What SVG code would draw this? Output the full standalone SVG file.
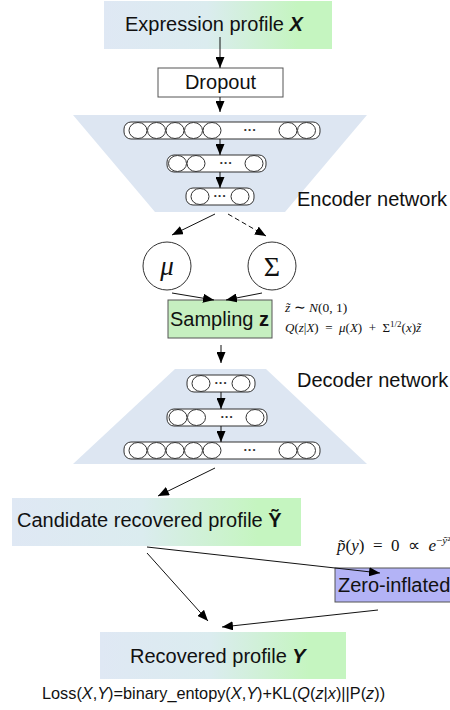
<svg xmlns="http://www.w3.org/2000/svg" width="450" height="710" viewBox="0 0 450 710">
<defs>
<linearGradient id="bg" x1="0" y1="0" x2="1" y2="0">
<stop offset="0" stop-color="#dfe8f4"/>
<stop offset="0.45" stop-color="#dbecef"/>
<stop offset="0.85" stop-color="#c5f5c0"/>
<stop offset="1" stop-color="#c5f5c0"/>
</linearGradient>
<marker id="ah" markerUnits="userSpaceOnUse" markerWidth="11" markerHeight="9" refX="11" refY="4.5" orient="auto">
<path d="M0,0 L11,4.5 L0,9 z" fill="#000"/>
</marker>
</defs>
<style>
.lbl{font-family:"Liberation Sans",Arial,sans-serif;font-size:20px;fill:#111}
.loss{font-family:"Liberation Sans",Arial,sans-serif;font-size:16.3px;fill:#111}
.math{font-family:"Liberation Serif","Times New Roman",serif;fill:#111}
.box{stroke:#555;stroke-width:1}
.trap{fill:#dde6f2}
.layer{fill:#fff;stroke:#333;stroke-width:1}
.nd{fill:#fff;stroke:#333;stroke-width:1}
.dots{font-family:"Liberation Sans",Arial,sans-serif;font-size:13px;font-weight:bold;fill:#333}
.edge{stroke:#111;stroke-width:1;fill:none;marker-end:url(#ah)}
</style>
<rect width="450" height="710" fill="#fff"/>

<!-- Encoder network -->
<g id="encoder">
<polygon class="trap" points="73,115 367,115 285,212 155,212"/>
<rect class="layer" x="124" y="122" width="196" height="17" rx="7"/>
<ellipse class="nd" cx="138" cy="130.5" rx="9" ry="8"/>
<ellipse class="nd" cx="156.5" cy="130.5" rx="9" ry="8"/>
<ellipse class="nd" cx="175" cy="130.5" rx="9" ry="8"/>
<ellipse class="nd" cx="193.5" cy="130.5" rx="9" ry="8"/>
<ellipse class="nd" cx="212" cy="130.5" rx="9" ry="8"/>
<text class="dots" x="250" y="134" text-anchor="middle">···</text>
<ellipse class="nd" cx="288" cy="130.5" rx="9" ry="8"/>
<ellipse class="nd" cx="306.5" cy="130.5" rx="9" ry="8"/>
<rect class="layer" x="167" y="155" width="99" height="17" rx="7"/>
<ellipse class="nd" cx="177.5" cy="163.5" rx="9" ry="8"/>
<ellipse class="nd" cx="196" cy="163.5" rx="9" ry="8"/>
<text class="dots" x="226" y="167" text-anchor="middle">···</text>
<ellipse class="nd" cx="254" cy="163.5" rx="9" ry="8"/>
<rect class="layer" x="186" y="188" width="68" height="17" rx="7"/>
<ellipse class="nd" cx="200" cy="196.5" rx="9" ry="8"/>
<text class="dots" x="220" y="200" text-anchor="middle">···</text>
<ellipse class="nd" cx="240" cy="196.5" rx="9" ry="8"/>
<text class="lbl" x="297" y="206">Encoder network</text>
</g>

<!-- Decoder network -->
<g id="decoder">
<polygon class="trap" points="175,369 266,369 367,464 73,464"/>
<rect class="layer" x="187" y="375" width="68" height="17" rx="7"/>
<ellipse class="nd" cx="201" cy="383.5" rx="9" ry="8"/>
<text class="dots" x="221" y="387" text-anchor="middle">···</text>
<ellipse class="nd" cx="241" cy="383.5" rx="9" ry="8"/>
<rect class="layer" x="167" y="409" width="100" height="17" rx="7"/>
<ellipse class="nd" cx="178" cy="417.5" rx="9" ry="8"/>
<ellipse class="nd" cx="196.5" cy="417.5" rx="9" ry="8"/>
<text class="dots" x="227" y="421" text-anchor="middle">···</text>
<ellipse class="nd" cx="255" cy="417.5" rx="9" ry="8"/>
<rect class="layer" x="124" y="442" width="196" height="17" rx="7"/>
<ellipse class="nd" cx="138" cy="450.5" rx="9" ry="8"/>
<ellipse class="nd" cx="156.5" cy="450.5" rx="9" ry="8"/>
<ellipse class="nd" cx="175" cy="450.5" rx="9" ry="8"/>
<ellipse class="nd" cx="193.5" cy="450.5" rx="9" ry="8"/>
<ellipse class="nd" cx="212" cy="450.5" rx="9" ry="8"/>
<text class="dots" x="250" y="454" text-anchor="middle">···</text>
<ellipse class="nd" cx="288" cy="450.5" rx="9" ry="8"/>
<ellipse class="nd" cx="306.5" cy="450.5" rx="9" ry="8"/>
<text class="lbl" x="297" y="387">Decoder network</text>
</g>

<g id="expression">
<rect x="104" y="1" width="228" height="48" fill="url(#bg)"/>
<text class="lbl" x="125" y="31">Expression profile <tspan font-weight="bold" font-style="italic">X</tspan></text>
</g>

<g id="dropout">
<rect class="box" x="158" y="68" width="125" height="29" fill="#fff"/>
<text class="lbl" x="220.5" y="89" text-anchor="middle">Dropout</text>
</g>

<g id="mu">
<circle class="nd" cx="167" cy="266" r="24"/>
<text class="math" x="167" y="275" font-size="27" font-style="italic" text-anchor="middle">μ</text>
</g>

<g id="sigma">
<circle class="nd" cx="272" cy="266" r="24"/>
<text class="math" x="272" y="276" font-size="28" text-anchor="middle">Σ</text>
</g>

<g id="sampling">
<rect class="box" x="168" y="300" width="104" height="38" fill="#c6efc0"/>
<text class="lbl" x="170" y="326">Sampling <tspan font-weight="bold">z</tspan></text>
<text class="math" x="285" y="312" font-size="13.5"><tspan font-style="italic">z̃</tspan> ∼ <tspan font-style="italic">N</tspan>(0, 1)</text>
<text class="math" x="285" y="332" font-size="13"><tspan font-style="italic">Q</tspan>(<tspan font-style="italic">z</tspan>|<tspan font-style="italic">X</tspan>)&#x2002;=&#x2002;<tspan font-style="italic">μ</tspan>(<tspan font-style="italic">X</tspan>)&#x2002;+&#x2002;Σ<tspan font-size="9" dy="-5">1/2</tspan><tspan dy="5">(</tspan><tspan font-style="italic">x</tspan>)<tspan font-style="italic">z̃</tspan></text>
</g>

<g id="candidate">
<rect x="12" y="498" width="289" height="48" fill="url(#bg)"/>
<text class="lbl" x="17" y="527">Candidate recovered profile <tspan font-weight="bold">Ỹ</tspan></text>
</g>

<g id="zeroinflated">
<rect class="box" x="335" y="568" width="120" height="34" fill="#b3b3f6"/>
<text class="lbl" x="338" y="592">Zero-inflated</text>
<text class="math" x="337" y="551" font-size="17"><tspan font-style="italic">p̃</tspan>(<tspan font-style="italic">y</tspan>)&#x2002;=&#x2002;0&#x2002;∝&#x2002;<tspan font-style="italic">e</tspan><tspan font-size="11" dy="-7">−<tspan font-style="italic">ỹ</tspan>²</tspan></text>
</g>

<g id="recovered">
<rect x="100" y="632" width="246" height="47" fill="url(#bg)"/>
<text class="lbl" x="130" y="663">Recovered profile <tspan font-weight="bold" font-style="italic">Y</tspan></text>
</g>

<g id="loss">
<text class="loss" x="42" y="699">Loss(<tspan font-style="italic">X</tspan>,<tspan font-style="italic">Y</tspan>)=binary_entopy(<tspan font-style="italic">X</tspan>,<tspan font-style="italic">Y</tspan>)+KL(<tspan font-style="italic">Q</tspan>(<tspan font-style="italic">z</tspan>|<tspan font-style="italic">x</tspan>)||P(<tspan font-style="italic">z</tspan>))</text>
</g>

<g id="connectors">
<line class="edge" x1="220" y1="37" x2="220" y2="68"/>
<line class="edge" x1="220" y1="97" x2="220" y2="112"/>
<line class="edge" x1="220" y1="139" x2="220" y2="155"/>
<line class="edge" x1="220" y1="172" x2="220" y2="188"/>
<line class="edge" x1="215" y1="214" x2="172" y2="235"/>
<line class="edge" x1="228" y1="214" x2="266" y2="236" stroke-dasharray="5,3"/>
<line class="edge" x1="172" y1="293" x2="214" y2="300"/>
<line class="edge" x1="262" y1="293" x2="226" y2="300"/>
<line class="edge" x1="221" y1="345" x2="221" y2="363"/>
<line class="edge" x1="221" y1="392" x2="221" y2="409"/>
<line class="edge" x1="221" y1="426" x2="221" y2="442"/>
<line class="edge" x1="215" y1="468" x2="158" y2="496"/>
<line class="edge" x1="147" y1="547" x2="380" y2="573"/>
<line class="edge" x1="147" y1="553" x2="208" y2="621"/>
<line class="edge" x1="378" y1="610" x2="222" y2="627"/>
</g>
</svg>
